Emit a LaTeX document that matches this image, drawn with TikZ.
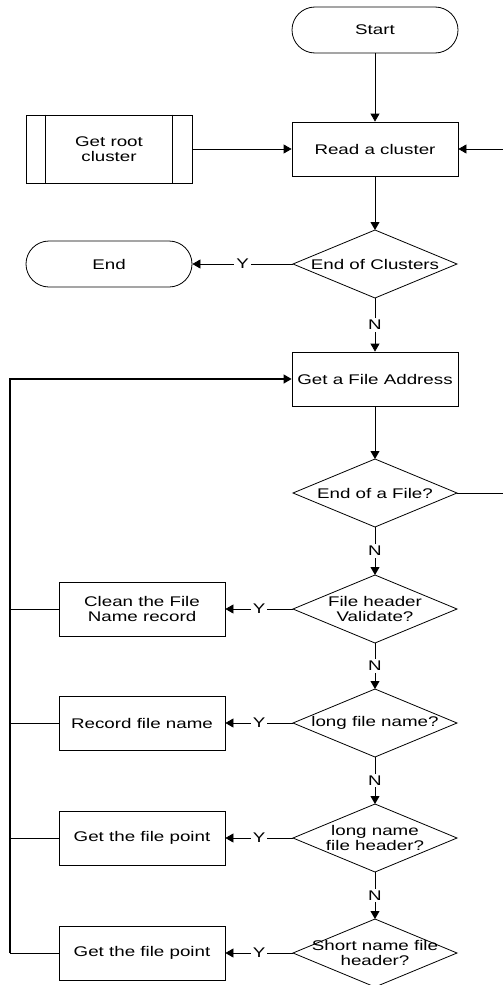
\documentclass[tikz,border=0pt]{standalone}
\usepackage{fontspec}
\setmainfont{Liberation Sans}[FakeStretch=1.34]
\usetikzlibrary{shapes.geometric,arrows.meta}

\begin{document}
\begin{tikzpicture}[x=1pt,y=-1pt,
  font=\fontsize{14}{15.5}\selectfont,
  flow/.style={line width=0.8pt},
  arr/.style={flow,-{Triangle[length=8pt,width=9pt]}},
  proc/.style={draw, line width=0.8pt, minimum width=166pt, minimum height=54pt,
               inner sep=0pt, align=center},
  term/.style={proc, minimum height=46pt, rounded corners=23pt},
  predef/.style={proc, minimum height=68pt},
  dec/.style={draw, line width=0.8pt, shape=diamond, minimum width=164pt,
              minimum height=68pt, inner sep=0pt, outer sep=0pt},
  lbl/.style={fill=white, inner sep=2pt}
]
\useasboundingbox (0,0) rectangle (503,985);

% main column
\node[term] (start) at (375,30) {Start};
\node[proc] (read) at (375,149) {Read a cluster};
\node[dec, label={[align=center]center:End of Clusters}] (dclus) at (375,264) {};
\node[proc] (gfa) at (375,379) {Get a File Address};
\node[dec, label={[align=center]center:End of a File?}] (dfile) at (375,493) {};
\node[dec, label={[align=center]center:{File header\\Validate?}}] (dvalid) at (375,609) {};
\node[dec, label={[align=center]center:long file name?}] (dlong) at (375,723) {};
\node[dec, label={[align=center]center:{long name\\file header?}}] (dlhead) at (375,838) {};
\node[dec, label={[align=center]center:{Short name file\\header?}}] (dshort) at (375,953) {};

% left column
\node[predef] (root) at (109,149) {Get root\\cluster};
\draw[flow] ([xshift=20pt]root.north west) -- ([xshift=20pt]root.south west);
\draw[flow] ([xshift=-20pt]root.north east) -- ([xshift=-20pt]root.south east);
\node[term] (end) at (109,264) {End};
\node[proc] (clean) at (142,609) {Clean the File\\Name record};
\node[proc] (record) at (142,723) {Record file name};
\node[proc] (point1) at (142,838) {Get the file point};
\node[proc] (point2) at (142,953) {Get the file point};

% loop corners
\coordinate (rtLow) at (504,493);
\coordinate (rtHigh) at (504,149);
\coordinate (lpTop) at (10,379);
\coordinate (lpBot) at (10,953);

% connectors
\draw[arr] (start) -- (read);
\draw[arr] (root) -- (read);
\draw[arr] (read) -- (dclus);
\draw[arr] (dclus.west) -- node[lbl]{Y} (end.east);
\draw[arr] (dclus.south) -- node[lbl]{N} (gfa.north);
\draw[arr] (gfa) -- (dfile.north);
\draw[arr] (dfile.east) -- (rtLow) -- (rtHigh) -- (read.east);
\draw[arr] (dfile.south) -- node[lbl]{N} (dvalid.north);
\draw[arr] (dvalid.south) -- node[lbl]{N} (dlong.north);
\draw[arr] (dlong.south) -- node[lbl]{N} (dlhead.north);
\draw[arr] (dlhead.south) -- node[lbl]{N} (dshort.north);
\draw[arr] (dvalid.west) -- node[lbl]{Y} (clean.east);
\draw[arr] (dlong.west) -- node[lbl]{Y} (record.east);
\draw[arr] (dlhead.west) -- node[lbl]{Y} (point1.east);
\draw[arr] (dshort.west) -- node[lbl]{Y} (point2.east);

% return path to the file address step
\draw[flow] (clean.west) -- (clean.west -| lpTop);
\draw[flow] (record.west) -- (record.west -| lpTop);
\draw[flow] (point1.west) -- (point1.west -| lpTop);
\draw[flow] (point2.west) -- (lpBot);
\draw[arr, line width=1.3pt] (lpBot) -- (lpTop) -- (gfa.west);
\end{tikzpicture}
\end{document}
